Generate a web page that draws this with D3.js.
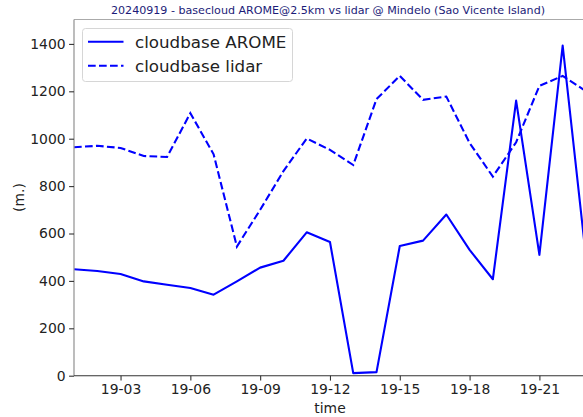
<!DOCTYPE html>
<html>
<head>
<meta charset="utf-8">
<script src="https://cdn.jsdelivr.net/npm/d3@7"></script>
<style>
  html, body { margin: 0; padding: 0; background: #fff; }
  svg { display: block; font-family: "DejaVu Sans", sans-serif; }
</style>
</head>
<body>
<svg id="chart" width="583" height="417"></svg>
<script>
const times = ["2024-09-19T01:00","2024-09-19T02:00","2024-09-19T03:00","2024-09-19T04:00",
  "2024-09-19T05:00","2024-09-19T06:00","2024-09-19T07:00","2024-09-19T08:00",
  "2024-09-19T09:00","2024-09-19T10:00","2024-09-19T11:00","2024-09-19T12:00",
  "2024-09-19T13:00","2024-09-19T14:00","2024-09-19T15:00","2024-09-19T16:00",
  "2024-09-19T17:00","2024-09-19T18:00","2024-09-19T19:00","2024-09-19T20:00",
  "2024-09-19T21:00","2024-09-19T22:00","2024-09-19T23:00"];
const arome = [449, 442, 429, 398, 384, 370, 342, 398, 456, 485, 605, 564,
  11, 15, 547, 570, 680, 531, 407, 1161, 510, 1393, 500];
const lidar = [964, 970, 961, 927, 923, 1108, 934, 545, 700, 863, 1001, 953,
  889, 1167, 1265, 1164, 1178, 982, 840, 985, 1223, 1265, 1201];
const yTicks = [0, 200, 400, 600, 800, 1000, 1200, 1400];
const xTicks = ["2024-09-19T03:00","2024-09-19T06:00","2024-09-19T09:00","2024-09-19T12:00",
  "2024-09-19T15:00","2024-09-19T18:00","2024-09-19T21:00"];
const titleText = "20240919 - basecloud AROME@2.5km vs lidar @ Mindelo (Sao Vicente Island)";
const seriesNames = ["cloudbase AROME", "cloudbase lidar"];

const parse = d3.timeParse("%Y-%m-%dT%H:%M");
const dates = times.map(parse);

const svg = d3.select("#chart");
const mLeft = 74, mTop = 19.5, mBottom = 375.7;
const hourPx = 23.27;
const x = d3.scaleTime()
  .domain([parse("2024-09-19T01:00"), parse("2024-09-20T00:00")])
  .range([mLeft, mLeft + 23 * hourPx]);
const y = d3.scaleLinear().domain([0, 1503]).range([mBottom, mTop]);

svg.append("defs").append("clipPath").attr("id", "clip")
  .append("rect").attr("x", mLeft).attr("y", mTop).attr("width", 600).attr("height", mBottom - mTop);

// lines
const lineGen = vals => d3.line().x((d, i) => x(dates[i])).y(d => y(d))(vals);
const g = svg.append("g").attr("clip-path", "url(#clip)");
g.append("path").attr("d", lineGen(arome))
  .attr("fill", "none").attr("stroke", "#0000ff").attr("stroke-width", 2.1)
  .attr("stroke-linejoin", "round");
g.append("path").attr("d", lineGen(lidar))
  .attr("fill", "none").attr("stroke", "#0000ff").attr("stroke-width", 2.1)
  .attr("stroke-dasharray", "7.7,3.3");

// spines
svg.append("line").attr("x1", mLeft).attr("x2", 583).attr("y1", mTop).attr("y2", mTop)
  .attr("stroke", "#aaa").attr("stroke-width", 1.1);
svg.append("line").attr("x1", mLeft).attr("x2", mLeft).attr("y1", mTop).attr("y2", mBottom)
  .attr("stroke", "#999").attr("stroke-width", 1.3);

// x axis
const xAxis = d3.axisBottom(x).tickValues(xTicks.map(parse))
  .tickFormat(d3.timeFormat("%d-%H")).tickSizeOuter(0).tickSize(4.9).tickPadding(3.5);
const xg = svg.append("g").attr("transform", `translate(0,${mBottom})`).call(xAxis);
xg.select(".domain").attr("stroke", "#333").attr("stroke-width", 1.1)
  .attr("d", `M${mLeft},0H583`);
xg.selectAll(".tick line").attr("stroke", "#333").attr("stroke-width", 1.1);
xg.selectAll(".tick text").attr("font-size", 13.9).attr("fill", "#222")
  .attr("font-family", "DejaVu Sans");

// y axis
const yAxis = d3.axisLeft(y).tickValues(yTicks).tickFormat(d3.format("d"))
  .tickSizeOuter(0).tickSize(4.9).tickPadding(3.5);
const yg = svg.append("g").attr("transform", `translate(${mLeft},0)`).call(yAxis);
yg.select(".domain").remove();
yg.selectAll(".tick line").attr("stroke", "#333").attr("stroke-width", 1.1);
yg.selectAll(".tick text").attr("font-size", 13.9).attr("fill", "#222")
  .attr("font-family", "DejaVu Sans");

// labels
svg.append("text").attr("x", 330).attr("y", 413).attr("text-anchor", "middle")
  .attr("font-size", 13.9).attr("fill", "#222").text("time");
svg.append("text").attr("transform", `translate(24,${(mTop + mBottom) / 2}) rotate(-90)`)
  .attr("text-anchor", "middle").attr("font-size", 13.9).attr("fill", "#222").text("(m.)");
svg.append("text").attr("x", 328).attr("y", 14).attr("text-anchor", "middle")
  .attr("font-size", 11.1).attr("fill", "#1c1c78").text(titleText);

// legend
const lg = svg.append("g");
lg.append("rect").attr("x", 82.5).attr("y", 28.5).attr("width", 210).attr("height", 53)
  .attr("rx", 3).attr("fill", "#fff").attr("stroke", "#d6d6d6").attr("stroke-width", 1);
[0, 1].forEach(i => {
  const cy = 41.7 + i * 24;
  lg.append("line").attr("x1", 88).attr("x2", 123.5).attr("y1", cy).attr("y2", cy)
    .attr("stroke", "#0000ff").attr("stroke-width", 2.1)
    .attr("stroke-dasharray", i === 1 ? "7.7,3.3" : null);
  lg.append("text").attr("x", 135).attr("y", cy + 6).attr("font-size", 16.7)
    .attr("fill", "#222").text(seriesNames[i]);
});
</script>
</body>
</html>
